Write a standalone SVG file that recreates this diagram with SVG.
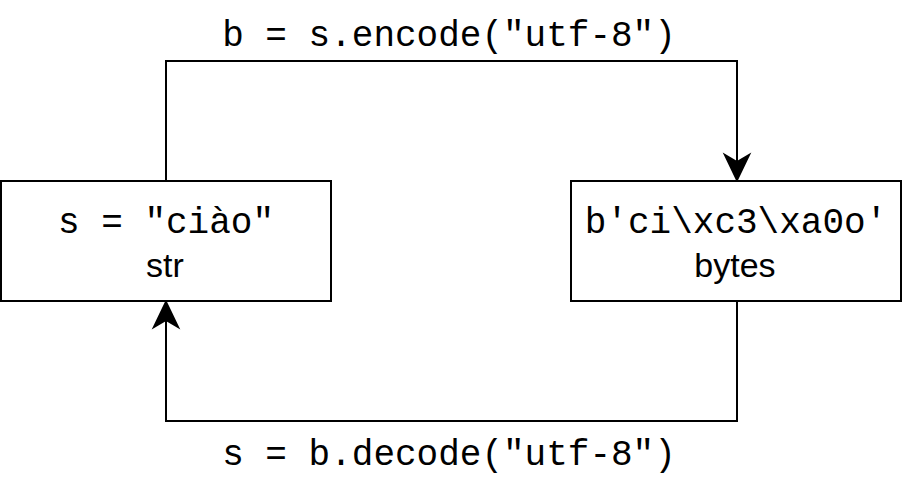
<svg xmlns="http://www.w3.org/2000/svg" width="903" height="483" viewBox="0 0 903 483">
<style>
.box{fill:#fff;stroke:#000;stroke-width:2}
.wire{fill:none;stroke:#000;stroke-width:2}
.head{fill:#000;stroke:#000;stroke-width:2;stroke-linejoin:miter}
.mono{font-family:"Liberation Mono","Courier New",monospace;font-size:36px;fill:#000;text-anchor:middle}
.sans{font-family:"Liberation Sans",Arial,sans-serif;font-size:34px;fill:#000;text-anchor:middle}
</style>
<rect width="903" height="483" fill="#fff"/>
<g id="connectors">
<path class="wire" d="M166,181 V61 H737 V164"/>
<path class="head" d="M737,180 L725,155 L737,162 L749,155 Z"/>
<path class="wire" d="M737,301 V421 H166 V318"/>
<path class="head" d="M166,302 L154,327 L166,320 L178,327 Z"/>
<text class="mono" x="449" y="46">b = s.encode("utf-8")</text>
<text class="mono" x="449" y="465">s = b.decode("utf-8")</text>
</g>
<g id="node-str">
<rect class="box" x="1" y="181" width="330" height="120"/>
<text class="mono" x="166" y="233">s = "ciào"</text>
<text class="sans" x="165" y="277">str</text>
</g>
<g id="node-bytes">
<rect class="box" x="571" y="181" width="330" height="120"/>
<text class="mono" x="736" y="233">b'ci\xc3\xa0o'</text>
<text class="sans" x="735" y="277">bytes</text>
</g>
</svg>
